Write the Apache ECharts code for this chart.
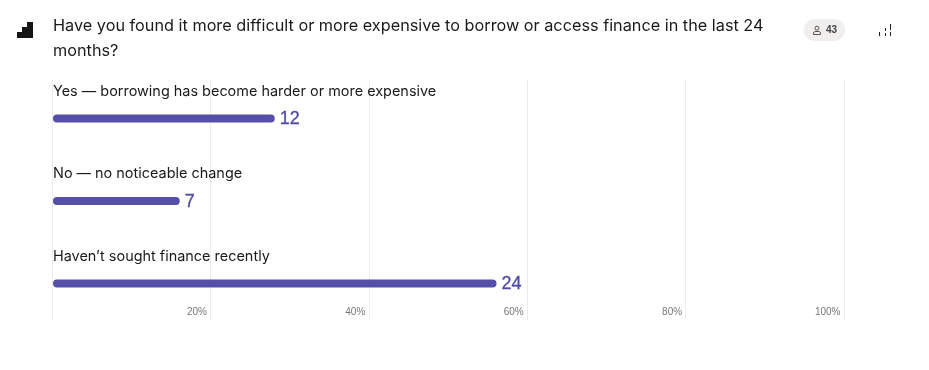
<!DOCTYPE html>
<html><head><meta charset="utf-8">
<style>html,body{margin:0;padding:0;background:#fff}#c{width:929px;height:370px}</style>
<script src="https://cdn.jsdelivr.net/npm/echarts@6/dist/echarts.min.js"></script>
</head><body><div id="c"></div>
<script>
const categories = ["Yes — borrowing has become harder or more expensive","No — no noticeable change","Haven’t sought finance recently"];
const counts = [12,7,24];
const respondents = 43;
const tickValues = [20,40,60,80,100];
const titleText = "Have you found it more difficult or more expensive to borrow or access finance in the last 24\nmonths?";
const FONT = "Inter, 'Noto Sans', sans-serif";
const percents = counts.map(v => Math.round(v / respondents * 100));
const chart = echarts.init(document.getElementById('c'), null, {renderer:'canvas'});
chart.setOption({
  animation:false,
  backgroundColor:'#fff',
  title:{text:titleText,left:53,top:14,padding:0,textStyle:{fontFamily:FONT,fontSize:16.25,fontWeight:400,color:'#1a1a1a',lineHeight:25}},
  grid:[
    {left:52,width:792,top:80,height:240},
    {left:53,width:792,top:77.25,height:247.5}
  ],
  xAxis:[
    {gridIndex:0,type:'value',min:0,max:100,interval:20,position:'bottom',
      axisLine:{show:false},axisTick:{show:false},
      splitLine:{show:true,lineStyle:{color:'#ececec',width:1}},
      axisLabel:{show:false}},
    {gridIndex:1,type:'value',min:0,max:100,interval:20,show:false}
  ],
  yAxis:[
    {gridIndex:0,type:'category',data:[''],show:false},
    {gridIndex:1,type:'category',inverse:true,data:categories,
      axisLine:{show:false},axisTick:{show:false},splitLine:{show:false},
      axisLabel:{inside:true,align:'left',verticalAlign:'bottom',margin:0,padding:[0,0,20,0],
        fontFamily:FONT,fontSize:14.45,color:'#1a1a1a'}}
  ],
  series:[{
    type:'bar',xAxisIndex:1,yAxisIndex:1,data:percents,barWidth:8,
    itemStyle:{color:'#5450a8',borderRadius:4},
    label:{show:true,position:'right',distance:5,offset:[0,1],fontFamily:"'Liberation Sans',sans-serif",fontSize:18,color:'#4f4ba5',
      textBorderColor:'#4f4ba5',textBorderWidth:0.3,
      formatter:p=>counts[p.dataIndex]}
  }],
  graphic:[
    ...tickValues.map(t=>({type:'text',style:{text:t+'%',x:52.5+792*t/100-4,y:312.5,align:'right',verticalAlign:'middle',font:"10px 'Liberation Sans',sans-serif",fill:'#777'}})),
    {type:'rect',shape:{x:17,y:32,width:5,height:6},style:{fill:'#151515'}},
    {type:'rect',shape:{x:22,y:27,width:5,height:11},style:{fill:'#151515'}},
    {type:'rect',shape:{x:27,y:22,width:6,height:16},style:{fill:'#151515'}},
    {type:'rect',shape:{x:804,y:19,width:41,height:22,r:11},style:{fill:'#f0efee'}},
    {type:'circle',shape:{cx:817,cy:28.2,r:2},style:{fill:'none',stroke:'#555',lineWidth:1}},
    {type:'polyline',shape:{points:[[813.5,34.5],[813.5,32.5],[815,31.5],[819,31.5],[820.5,32.5],[820.5,34.5],[813.5,34.5]]},style:{fill:'none',stroke:'#555',lineWidth:1}},
    {type:'text',style:{text:String(respondents),x:826,y:30,verticalAlign:'middle',font:"bold 10px 'Liberation Sans',sans-serif",fill:'#444'}},
    {type:'rect',shape:{x:879,y:32,width:1,height:4},style:{fill:'#222'}},
    {type:'rect',shape:{x:885,y:28,width:1,height:3},style:{fill:'#222'}},
    {type:'rect',shape:{x:885,y:33,width:1,height:3},style:{fill:'#222'}},
    {type:'rect',shape:{x:890,y:24,width:1,height:6},style:{fill:'#222'}},
    {type:'rect',shape:{x:890,y:32,width:1,height:4},style:{fill:'#222'}}
  ]
});
</script></body></html>
